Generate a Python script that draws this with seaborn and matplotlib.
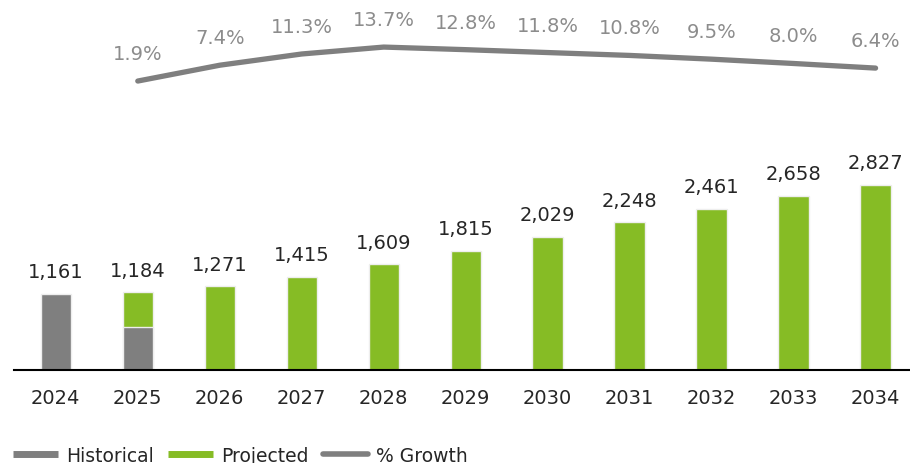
import matplotlib
matplotlib.use('Agg')
import matplotlib.pyplot as plt
import seaborn as sns
import pandas as pd
import numpy as np
from matplotlib.lines import Line2D

# ---- data ----
years = ['2024', '2025', '2026', '2027', '2028', '2029', '2030', '2031', '2032', '2033', '2034']
totals = [1161, 1184, 1271, 1415, 1609, 1815, 2029, 2248, 2461, 2658, 2827]
hist_years = ['2024', '2025']
historical = [1161, 650]
proj_years = years[1:]
projected = totals[1:]
growth_years = years[1:]
growth = [1.9, 7.4, 11.3, 13.7, 12.8, 11.8, 10.8, 9.5, 8.0, 6.4]

GREEN = '#86BC25'
GRAY = '#7F7F7F'
LINEGRAY = '#7F7F7F'
LABELGRAY = '#8C8C8C'
DARK = '#262626'

sns.set_theme(style='white')
plt.rcParams['font.family'] = ['DejaVu Sans']

fig = plt.figure(figsize=(9.1, 4.64), dpi=100)
W, H = 910, 464
ax = fig.add_axes([14 / W, (H - 370.5) / H, 1 - 14 / W, 370.5 / H])

proj_df = pd.DataFrame({'year': proj_years, 'value': projected})
hist_df = pd.DataFrame({'year': hist_years, 'value': historical})
sns.barplot(data=proj_df, x='year', y='value', order=years, color=GREEN,
            saturation=1, width=0.37, edgecolor='#EEEEEE', linewidth=1, ax=ax)
sns.barplot(data=hist_df, x='year', y='value', order=years, color=GRAY,
            saturation=1, width=0.37, edgecolor='#EEEEEE', linewidth=1, ax=ax)

ax.set_xlim(-0.51, 10.42)
ax.set_ylim(0, 370.5 / 0.0654)
ax.set_xlabel('')
ax.set_ylabel('')
ax.set_yticks([])
for s in ['left', 'right', 'top']:
    ax.spines[s].set_visible(False)
ax.spines['bottom'].set_color('black')
ax.spines['bottom'].set_linewidth(1.5)
ax.tick_params(axis='x', length=0, pad=13, labelsize=14, labelcolor=DARK)

for i, v in enumerate(totals):
    ax.annotate(f'{v:,}', (i, v), xytext=(0, 9), textcoords='offset points',
                ha='center', va='bottom', fontsize=14, color=DARK)

# growth line on twin axis
ax2 = ax.twinx()
gx = [years.index(y) for y in growth_years]
sns.lineplot(x=gx, y=growth, ax=ax2, color=LINEGRAY, linewidth=3.8,
             solid_capstyle='round')
ax2.set_ylim(-98.3, 30.4)
ax2.set_yticks([])
ax2.set_ylabel('')
for s in ax2.spines.values():
    s.set_visible(False)
for x, g in zip(gx, growth):
    ax2.annotate(f'{g:.1f}%', (x, g), xytext=(0, 19.8), textcoords='offset points',
                 ha='center', va='center', fontsize=14, color=LABELGRAY)

handles = [Line2D([0], [0], color=GRAY, linewidth=5, solid_capstyle='butt'),
           Line2D([0], [0], color=GREEN, linewidth=5, solid_capstyle='butt'),
           Line2D([0], [0], color=LINEGRAY, linewidth=4, solid_capstyle='round')]
fig.legend(handles, ['Historical', 'Projected', '% Growth'], loc='lower left',
           bbox_to_anchor=(-0.004, -0.04), ncol=3, frameon=False, fontsize=13.5,
           handlelength=2.4, handletextpad=0.4, columnspacing=0.8,
           labelcolor=DARK)

fig.savefig('out.png', dpi=100)
